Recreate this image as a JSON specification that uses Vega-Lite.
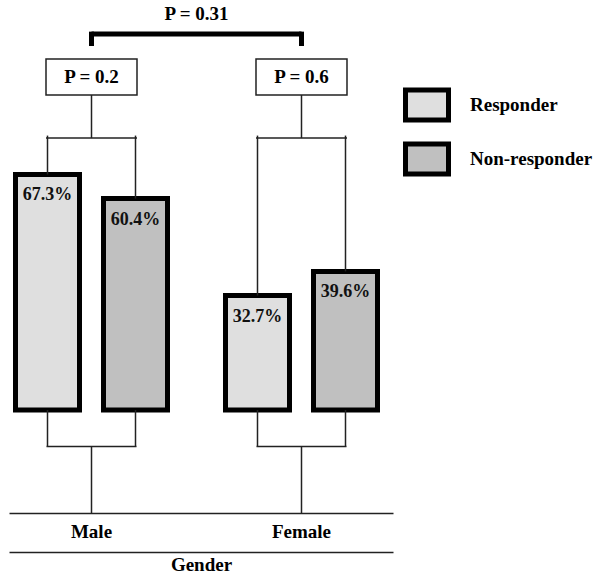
{
  "$schema": "https://vega.github.io/schema/vega-lite/v6.json",
  "width": 597,
  "height": 513,
  "padding": 0,
  "background": "white",
  "config": {"view": {"stroke": null}},
  "datasets": {
    "bars": [
      {"gender": "Male", "group": "Responder", "pct": 67.3, "label": "67.3%"},
      {"gender": "Male", "group": "Non-responder", "pct": 60.4, "label": "60.4%"},
      {"gender": "Female", "group": "Responder", "pct": 32.7, "label": "32.7%"},
      {"gender": "Female", "group": "Non-responder", "pct": 39.6, "label": "39.6%"}
    ],
    "tests": [
      {"gender": "Male", "p": "P = 0.2"},
      {"gender": "Female", "p": "P = 0.6"}
    ],
    "overall": [{"p": "P = 0.31"}]
  },
  "resolve": {"axis": {"x": "independent"}},
  "layer": [
    {
      "data": {"name": "bars"},
      "mark": {"type": "bar", "stroke": "black", "strokeWidth": 5},
      "encoding": {
        "x": {
          "field": "gender", "type": "nominal",
          "scale": {"domain": ["Male", "Female"], "range": [9, 393], "paddingInner": 0.2714, "paddingOuter": 0.05, "align": 0.2857},
          "axis": {"orient": "bottom", "title": null, "domain": true, "domainColor": "#222", "domainWidth": 1.5, "ticks": false, "labelFont": "Liberation Serif", "labelFontWeight": "bold", "labelFontSize": 19, "labelColor": "black", "labelPadding": 9, "labelAngle": 0}
        },
        "xOffset": {"field": "group", "type": "nominal", "scale": {"domain": ["Responder", "Non-responder"], "paddingInner": 0.2727, "paddingOuter": 0.0057}},
        "y": {"field": "pct", "type": "quantitative", "scale": {"domain": [-29.43, 117.14], "nice": false, "zero": false}, "axis": null},
        "y2": {"datum": 0},
        "color": {
          "field": "group", "type": "nominal",
          "scale": {"domain": ["Responder", "Non-responder"], "range": ["#dfdfdf", "#c0c0c0"]},
          "legend": {"orient": "none", "legendX": 403, "legendY": 81, "title": null, "padding": 0, "symbolType": "M-1,-0.698H1V0.698H-1Z", "symbolSize": 1849, "symbolStrokeColor": "black", "symbolStrokeWidth": 5, "symbolOpacity": 1, "labelFont": "Liberation Serif", "labelFontWeight": "bold", "labelFontSize": 19, "labelColor": "black", "labelOffset": 19, "rowPadding": 2}
        }
      }
    },
    {
      "data": {"name": "bars"},
      "mark": {"type": "text", "dy": 21, "baseline": "middle", "align": "center", "font": "Liberation Serif", "fontWeight": "bold", "fontSize": 18, "color": "#111"},
      "encoding": {
        "x": {"field": "gender", "type": "nominal", "axis": null},
        "xOffset": {"field": "group", "type": "nominal"},
        "y": {"field": "pct", "type": "quantitative"},
        "text": {"field": "label"}
      }
    },
    {
      "data": {"name": "bars"},
      "mark": {"type": "bar", "width": 1.5, "color": "#222"},
      "encoding": {
        "x": {"field": "gender", "type": "nominal", "axis": null},
        "xOffset": {"field": "group", "type": "nominal"},
        "y": {"field": "pct", "type": "quantitative"},
        "y2": {"datum": 78.4}
      }
    },
    {
      "data": {"name": "bars"},
      "mark": {"type": "bar", "width": 1.5, "color": "#222"},
      "encoding": {
        "x": {"field": "gender", "type": "nominal", "axis": null},
        "xOffset": {"field": "group", "type": "nominal"},
        "y": {"datum": 0, "type": "quantitative"},
        "y2": {"datum": -10.4}
      }
    },
    {
      "data": {"name": "tests"},
      "mark": {"type": "tick", "size": 91, "thickness": 1.5, "color": "#222", "opacity": 1},
      "encoding": {
        "x": {"field": "gender", "type": "nominal", "axis": null},
        "y": {"datum": 77.7, "type": "quantitative"}
      }
    },
    {
      "data": {"name": "tests"},
      "mark": {"type": "tick", "size": 90, "thickness": 1.5, "color": "#222", "opacity": 1},
      "encoding": {
        "x": {"field": "gender", "type": "nominal", "axis": null},
        "y": {"datum": -10.4, "type": "quantitative"}
      }
    },
    {
      "data": {"name": "tests"},
      "mark": {"type": "bar", "width": 1.5, "color": "#222"},
      "encoding": {
        "x": {"field": "gender", "type": "nominal", "axis": null},
        "y": {"datum": 77.7, "type": "quantitative"},
        "y2": {"datum": 90.0}
      }
    },
    {
      "data": {"name": "tests"},
      "mark": {"type": "bar", "width": 1.5, "color": "#222"},
      "encoding": {
        "x": {"field": "gender", "type": "nominal", "axis": null},
        "y": {"datum": -10.4, "type": "quantitative"},
        "y2": {"datum": -29.43}
      }
    },
    {
      "data": {"name": "tests"},
      "mark": {"type": "bar", "width": 91, "fill": "white", "stroke": "#222", "strokeWidth": 1.5},
      "encoding": {
        "x": {
          "field": "gender", "type": "nominal",
          "axis": {"orient": "bottom", "offset": 39, "labels": false, "ticks": false, "domain": true, "domainColor": "#222", "domainWidth": 1.5, "title": "Gender", "titleFont": "Liberation Serif", "titleFontWeight": "bold", "titleFontSize": 19, "titleColor": "black", "titlePadding": 3}
        },
        "y": {"datum": 100.3, "type": "quantitative"},
        "y2": {"datum": 90.0}
      }
    },
    {
      "data": {"name": "tests"},
      "mark": {"type": "text", "baseline": "middle", "align": "center", "font": "Liberation Serif", "fontWeight": "bold", "fontSize": 19, "color": "black"},
      "encoding": {
        "x": {"field": "gender", "type": "nominal", "axis": null},
        "y": {"datum": 95.2, "type": "quantitative"},
        "text": {"field": "p"}
      }
    },
    {
      "data": {"name": "overall"},
      "mark": {"type": "rule", "strokeWidth": 5, "color": "black"},
      "encoding": {
        "x": {"datum": "Male", "axis": null},
        "x2": {"datum": "Female"},
        "y": {"datum": 107.43, "type": "quantitative"}
      }
    },
    {
      "data": {"name": "tests"},
      "mark": {"type": "bar", "width": 5, "color": "black"},
      "encoding": {
        "x": {"field": "gender", "type": "nominal", "axis": null},
        "y": {"datum": 108.1, "type": "quantitative"},
        "y2": {"datum": 104.0}
      }
    },
    {
      "data": {"name": "overall"},
      "mark": {"type": "text", "baseline": "middle", "align": "center", "font": "Liberation Serif", "fontWeight": "bold", "fontSize": 19, "color": "black"},
      "encoding": {
        "x": {"datum": "Male", "bandPosition": 1.186, "axis": null},
        "y": {"datum": 113.1, "type": "quantitative"},
        "text": {"field": "p"}
      }
    }
  ]
}
